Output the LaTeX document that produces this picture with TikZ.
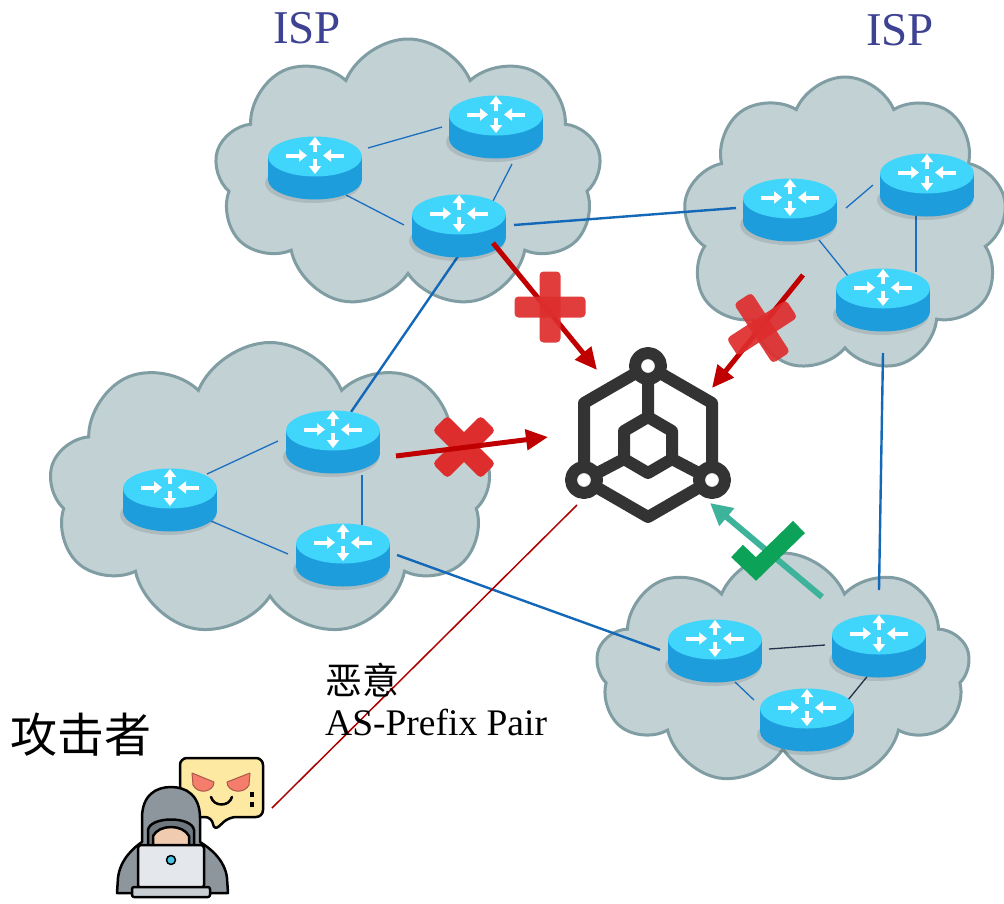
\documentclass[tikz,border=0pt]{standalone}
\usepackage{fontspec}
\setmainfont{Liberation Serif}
\newfontfamily\cjk{Noto Sans CJK SC}
\usetikzlibrary{shapes.symbols,arrows.meta,calc}

\definecolor{cloudfill}{RGB}{194,209,212}
\definecolor{cloudedge}{RGB}{127,157,162}
\definecolor{rtop}{RGB}{64,214,252}
\definecolor{rside}{RGB}{29,157,220}
\definecolor{wanblue}{RGB}{20,104,184}
\definecolor{lanblue}{RGB}{26,111,192}
\definecolor{lannavy}{RGB}{35,50,77}
\definecolor{hubgray}{RGB}{51,51,51}
\definecolor{arrowred}{RGB}{192,0,0}
\definecolor{xred}{RGB}{222,45,45}
\definecolor{okgreen}{RGB}{12,163,88}
\definecolor{tealarrow}{RGB}{61,179,155}
\definecolor{ispblue}{RGB}{62,66,146}
\definecolor{bubble}{RGB}{254,233,163}
\definecolor{eyered}{RGB}{244,125,107}
\definecolor{hood}{RGB}{141,150,157}
\definecolor{hooddark}{RGB}{111,120,127}
\definecolor{skin}{RGB}{240,203,176}
\definecolor{laptop}{RGB}{228,231,235}
\definecolor{laptopbase}{RGB}{201,206,211}
\definecolor{lens}{RGB}{74,194,228}

\pgfdeclarelayer{clouds}
\pgfdeclarelayer{links}
\pgfsetlayers{clouds,links,main}

\begin{document}
\begin{tikzpicture}[x=1pt,y=-1pt,
  isp cloud/.style={cloud, cloud puffs=9, cloud puff arc=135, cloud ignores aspect,
    fill=cloudfill, draw=cloudedge, line width=3, inner sep=0pt},
  router/.style={minimum width=104pt, minimum height=78pt, inner sep=0pt,
    path picture={
      \begin{scope}[shift={(path picture bounding box.center)}]
        \fill[black, opacity=0.10] (-2,15) ellipse [x radius=48, y radius=20];
        \fill[rside] (-47,-11.5) rectangle (47,11.5);
        \fill[rside] (0,11.5) ellipse [x radius=47, y radius=20];
        \fill[rtop] (0,-11.5) ellipse [x radius=47, y radius=20];
        \begin{scope}[white, line width=4, -{Triangle[length=8pt,width=12pt]}]
          \draw (-29,-12.5) -- (-8,-12.5);
          \draw (29,-12.5) -- (8,-12.5);
          \draw (0,-16) -- (0,-31);
          \draw (0,-9) -- (0,6);
        \end{scope}
      \end{scope}}},
  hubline/.style={draw=hubgray, line width=12, line join=round},
  hubicon/.style={minimum width=170pt, minimum height=210pt, inner sep=0pt,
    path picture={
      \begin{scope}[shift={(path picture bounding box.center)}, hubline]
        \draw (0,-75) -- (64,-38) -- (64,39) -- (0,76) -- (-64,39) -- (-64,-38) -- cycle;
        \draw (0,-24) -- (24,-10) -- (24,18) -- (0,32) -- (-24,18) -- (-24,-10) -- cycle;
        \draw (0,-75) -- (0,-24) (-24,18) -- (-64,39) (24,18) -- (64,39);
        \foreach \px/\py in {0/-75,-64/39,64/39}
          \filldraw[fill=white] (\px,\py) circle [radius=13];
      \end{scope}}},
  wan/.style={draw=wanblue, line width=2.4},
  lan/.style={draw=lanblue, line width=1.3},
  landark/.style={draw=lannavy, line width=1.3},
  blocked/.style={draw=arrowred, line width=5, -{Triangle[length=22pt,width=20pt]}},
  accepted/.style={draw=tealarrow, line width=6, -{Triangle[length=22pt,width=22pt]}},
  rogue/.style={draw=arrowred!90!black, line width=1.5},
  ispname/.style={text=ispblue, font=\fontsize{47}{50}\selectfont, inner sep=0pt, anchor=base},
  label/.style={inner sep=0pt, anchor=base west, font=\fontsize{37.5}{40}\selectfont}
]
\useasboundingbox (0,0) rectangle (1004,903);

% ---------- ISP clouds ----------
\begin{pgfonlayer}{clouds}
  \node[isp cloud, minimum width=387pt, minimum height=270pt] (c1) at (408,174) {};
  \node[isp cloud, minimum width=324pt, minimum height=296pt] (c2) at (845,225) {};
  \node[isp cloud, minimum width=442pt, minimum height=295pt] (c3) at (270,490) {};
  \node[isp cloud, minimum width=374pt, minimum height=232pt] (c4) at (783,669) {};
\end{pgfonlayer}

% ---------- routers ----------
\node[router] (r1a) at (315,168) {};
\node[router] (r1b) at (496,127) {};
\node[router] (r1c) at (459,226) {};
\node[router] (r2a) at (790,210) {};
\node[router] (r2b) at (927,185) {};
\node[router] (r2c) at (883,300) {};
\node[router] (r3a) at (333,442) {};
\node[router] (r3b) at (170,500) {};
\node[router] (r3c) at (343,555) {};
\node[router] (r4a) at (715,651) {};
\node[router] (r4b) at (879,646) {};
\node[router] (r4c) at (807,720) {};

% ---------- links ----------
\begin{pgfonlayer}{links}
  % inside each ISP
  \draw[lan] ($(r1a)+(53,-20)$) -- ($(r1b)+(-54,0)$);
  \draw[lan] ($(r1a)+(31,27)$) -- ($(r1c)+(-55,-1)$);
  \draw[lan] ($(r1b)+(16,37)$) -- ($(r1c)+(33,-23)$);
  \draw[lan] ($(r2a)+(56,-2)$) -- ($(r2b)+(-54,0)$);
  \draw[lan] ($(r2b)+(-11,28)$) -- ($(r2c)+(33,-28)$);
  \draw[lan] ($(r2a)+(29,30)$) -- ($(r2c)+(-35,-24)$);
  \draw[lan] ($(r3a)+(-55,-1)$) -- ($(r3b)+(37,-26)$);
  \draw[lan] ($(r3b)+(41,21)$) -- ($(r3c)+(-55,-1)$);
  \draw[lan] ($(r3a)+(29,33)$) -- ($(r3c)+(19,-30)$);
  \draw[landark] ($(r4a)+(54,-2)$) -- ($(r4b)+(-54,-1)$);
  \draw[lan] ($(r4a)+(20,31)$) -- ($(r4c)+(-53,-20)$);
  \draw[landark] ($(r4b)+(-9,27)$) -- ($(r4c)+(41,-20)$);
  % between ISPs
  \draw[wan] ($(r1c)+(55,-1)$) -- ($(r2a)+(-54,-2)$);
  \draw[wan] ($(r1c)+(2,26)$) -- ($(r3a)+(18,-30)$);
  \draw[wan] ($(r2c)+(0,53)$) -- ($(r4b)+(0,-56)$);
  \draw[wan] ($(r3c)+(54,0)$) -- ($(r4a)+(-55,-1)$);
\end{pgfonlayer}

% ---------- validation hub ----------
\node[hubicon] (hub) at (648,441) {};

% ---------- attacker ----------
\coordinate (hacker) at (175,828);
\begin{scope}[line width=2.5, line join=round]
  % speech bubble
  \filldraw[fill=bubble, rounded corners=7] (180,758) -- (263,758) -- (263,817)
    -- (229,817) -- (214,831) -- (212,817) -- (180,817) -- cycle;
  \filldraw[fill=eyered, draw=eyered!70!black, line width=1]
    (192,773) -- (214,782) .. controls (214,792) and (198,795) .. (193,785) -- cycle;
  \filldraw[fill=eyered, draw=eyered!70!black, line width=1]
    (250,773) -- (227,782) .. controls (227,792) and (244,795) .. (249,785) -- cycle;
  \draw[line cap=round] (211,797) .. controls (214,807) and (229,807) .. (232,797);
  \fill (250,792) rectangle (254,797);
  \fill (250,802) rectangle (254,807);
  % hooded figure
  \filldraw[fill=hood] (117,893) -- (118,878) .. controls (120,860) and (133,848) .. (142,842)
    -- (142,818) .. controls (142,795) and (156,787) .. (171,787)
    .. controls (186,787) and (200,795) .. (200,818) -- (200,842)
    .. controls (210,848) and (225,860) .. (227,878) -- (228,893) -- cycle;
  \filldraw[fill=hooddark] (148,852) -- (148,830) .. controls (150,816) and (192,816) .. (194,830)
    -- (194,852) -- cycle;
  \filldraw[fill=skin] (153,852) -- (153,836) .. controls (159,824) and (183,824) .. (189,836)
    -- (189,852) -- cycle;
  % laptop
  \filldraw[fill=laptop, rounded corners=3] (138,845) rectangle (204,888);
  \filldraw[fill=laptopbase, rounded corners=2] (132,887) rectangle (210,897);
  \filldraw[fill=lens, line width=1.5] (171,860) circle [radius=4.5];
\end{scope}

% ---------- announcements to the hub ----------
\draw[rogue] ($(hacker)+(97,-20)$) -- ($(hub)+(-71,64)$);

% rejected routes
\begin{scope}[shift={(464,447)}, rotate=45]
  \fill[xred, rounded corners=4] (-34,-10.5) rectangle (34,10.5);
  \fill[xred, rounded corners=4] (-10.5,-34) rectangle (10.5,34);
\end{scope}
\draw[blocked] ($(r1c)+(34,17)$) -- ($(hub)+(-51,-71)$);
\draw[blocked] ($(r2c)+(-80,-25)$) -- ($(hub)+(64,-53)$);
\draw[blocked] ($(r3a)+(63,14)$) -- ($(hub)+(-100,-4)$);
\begin{scope}[shift={(550,307)}]
  \fill[xred, opacity=0.92, rounded corners=4] (-35.5,-10.5) rectangle (35.5,10.5);
  \fill[xred, opacity=0.92, rounded corners=4] (-10.5,-35.5) rectangle (10.5,35.5);
\end{scope}
\begin{scope}[shift={(762,328)}, rotate=33]
  \fill[xred, opacity=0.92, rounded corners=4] (-35.5,-10.5) rectangle (35.5,10.5);
  \fill[xred, opacity=0.92, rounded corners=4] (-10.5,-35.5) rectangle (10.5,35.5);
\end{scope}

% accepted route
\draw[accepted] ($(r4b)+(-57,-49)$) -- ($(hub)+(62,62)$);
\draw[okgreen, line width=17, line join=miter] (737,551) -- (756,569) -- (799,527);

% ---------- text ----------
\node[ispname] (isp1) at (307,43) {ISP};
\node[ispname] (isp2) at (900,45) {ISP};
\node[inner sep=0pt, anchor=base, font=\cjk\fontsize{47}{50}\selectfont] (atk) at (81,752) {攻击者};
\node[label, font=\cjk\fontsize{37}{40}\selectfont] (mal) at (325,694) {恶意};
\node[label] (pair) at (325,735) {AS-Prefix Pair};
\end{tikzpicture}
\end{document}
